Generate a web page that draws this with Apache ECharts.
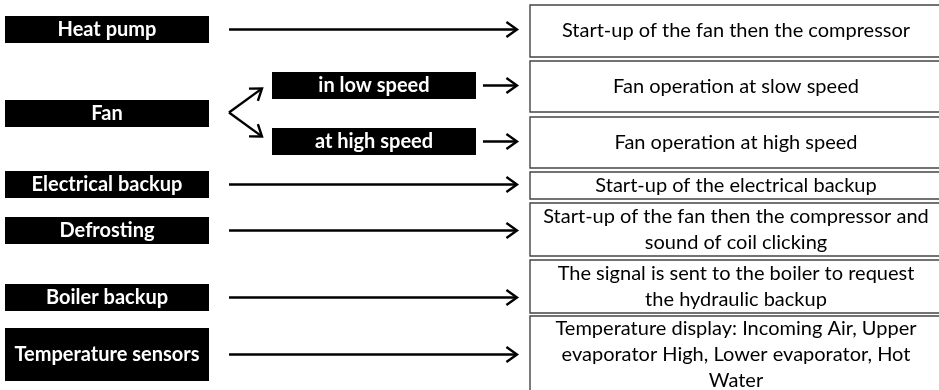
<!DOCTYPE html>
<html><head><meta charset="utf-8">
<script src="https://cdn.jsdelivr.net/npm/echarts@6/dist/echarts.min.js"></script>
<style>html,body{margin:0;padding:0;background:#fff}#c{width:939px;height:390px}</style>
</head><body><div id="c"></div>
<script>
// ---- content ----
const sources = ['Heat pump', 'Fan', 'Electrical backup', 'Defrosting', 'Boiler backup', 'Temperature sensors'];
const fanModes = ['in low speed', 'at high speed'];
const effects = [
  'Start-up of the fan then the compressor',
  'Fan operation at slow speed',
  'Fan operation at high speed',
  'Start-up of the electrical backup',
  'Start-up of the fan then the compressor and\nsound of coil clicking',
  'The signal is sent to the boiler to request\nthe hydraulic backup',
  'Temperature display: Incoming Air, Upper\nevaporator High, Lower evaporator, Hot\nWater'
];
// source index -> effect index
const directLinks = [[0, 0], [2, 3], [3, 4], [4, 5], [5, 6]];
// Fan (source 1) branches into modes; mode index -> effect index
const fanSource = 1;
const modeLinks = [[0, 1], [1, 2]];

// ---- layout (diagram units on hidden axes) ----
const W = 939, H = 390;
const SRC_X = [5, 209];
const SRC_Y = [[16, 43], [100, 127], [171, 198], [217, 244], [284, 311], [328, 381]];
const MODE_X = [272, 476];
const MODE_Y = [[72, 99], [128, 155]];
const EFF_X = [530, 942];
const EFF_Y = [[5, 57], [61, 112], [117, 168], [172, 199], [203, 256], [260, 313], [316, 394]];
const ARROW_X0 = 229, ARROW_X1 = 517, MODE_ARROW_X0 = 483, FORK_X1 = 262, FORK_SPREAD = 24;

const mid = r => (r[0] + r[1]) / 2;

const srcData = sources.map((s, i) => [SRC_X[0], SRC_Y[i][0], SRC_X[1], SRC_Y[i][1]]);
const modeData = fanModes.map((s, i) => [MODE_X[0], MODE_Y[i][0], MODE_X[1], MODE_Y[i][1]]);
const effData = effects.map((s, i) => [EFF_X[0], EFF_Y[i][0], EFF_X[1], EFF_Y[i][1]]);

const arrowData = [];
directLinks.forEach(([s, e]) => {
  const y = mid(SRC_Y[s]);
  arrowData.push([ARROW_X0, y, ARROW_X1, y]);
});
modeLinks.forEach(([m, e]) => {
  const y = mid(MODE_Y[m]);
  arrowData.push([MODE_ARROW_X0, y, ARROW_X1, y]);
});
const forkY = mid(SRC_Y[fanSource]) - 1;
arrowData.push([ARROW_X0, forkY, FORK_X1, forkY - FORK_SPREAD]);
arrowData.push([ARROW_X0, forkY, FORK_X1, forkY + FORK_SPREAD]);

function boxRender(labels, style) {
  return function (params, api) {
    const p0 = api.coord([api.value(0), api.value(1)]);
    const p1 = api.coord([api.value(2), api.value(3)]);
    return {
      type: 'group',
      children: [
        {
          type: 'rect',
          shape: { x: p0[0], y: p0[1], width: p1[0] - p0[0], height: p1[1] - p0[1] },
          style: { fill: style.fill, stroke: style.stroke, lineWidth: style.lineWidth }
        },
        {
          type: 'text',
          x: (p0[0] + p1[0]) / 2,
          y: (p0[1] + p1[1]) / 2 + style.dy,
          style: {
            text: labels[params.dataIndex],
            fill: style.color,
            font: style.font,
            align: 'center',
            verticalAlign: 'middle',
            lineHeight: style.lineHeight
          }
        }
      ]
    };
  };
}

function arrowRender(params, api) {
  const p0 = api.coord([api.value(0), api.value(1)]);
  const p1 = api.coord([api.value(2), api.value(3)]);
  const ang = Math.atan2(p1[1] - p0[1], p1[0] - p0[0]);
  const len = 13, spread = 0.62;
  const a1 = [p1[0] - len * Math.cos(ang - spread), p1[1] - len * Math.sin(ang - spread)];
  const a2 = [p1[0] - len * Math.cos(ang + spread), p1[1] - len * Math.sin(ang + spread)];
  const st = { stroke: '#000', lineWidth: 2.4, fill: null, lineJoin: 'miter', lineCap: 'butt' };
  return {
    type: 'group',
    children: [
      { type: 'line', shape: { x1: p0[0], y1: p0[1], x2: p1[0] - 1.5 * Math.cos(ang), y2: p1[1] - 1.5 * Math.sin(ang) }, style: st },
      { type: 'polyline', shape: { points: [a1, p1, a2] }, style: st }
    ]
  };
}

const chart = echarts.init(document.getElementById('c'), null, { renderer: 'canvas' });
chart.setOption({
  animation: false,
  backgroundColor: '#fff',
  grid: { left: 0, right: 0, top: 0, bottom: 0 },
  xAxis: { type: 'value', min: 0, max: W, show: false },
  yAxis: { type: 'value', min: 0, max: H, inverse: true, show: false },
  series: [
    {
      type: 'custom', name: 'effects', data: effData,
      renderItem: boxRender(effects, { fill: '#fff', stroke: '#444', lineWidth: 1.4, color: '#000', font: '20px Lato', lineHeight: 26, dy: 0 })
    },
    {
      type: 'custom', name: 'sources', data: srcData,
      renderItem: boxRender(sources, { fill: '#000', stroke: null, lineWidth: 0, color: '#fff', font: 'bold 20px Lato', lineHeight: 22, dy: 0.5 })
    },
    {
      type: 'custom', name: 'modes', data: modeData,
      renderItem: boxRender(fanModes, { fill: '#000', stroke: null, lineWidth: 0, color: '#fff', font: 'bold 20px Lato', lineHeight: 22, dy: 0.5 })
    },
    {
      type: 'custom', name: 'arrows', data: arrowData,
      renderItem: arrowRender
    }
  ]
});
</script>
</body></html>
